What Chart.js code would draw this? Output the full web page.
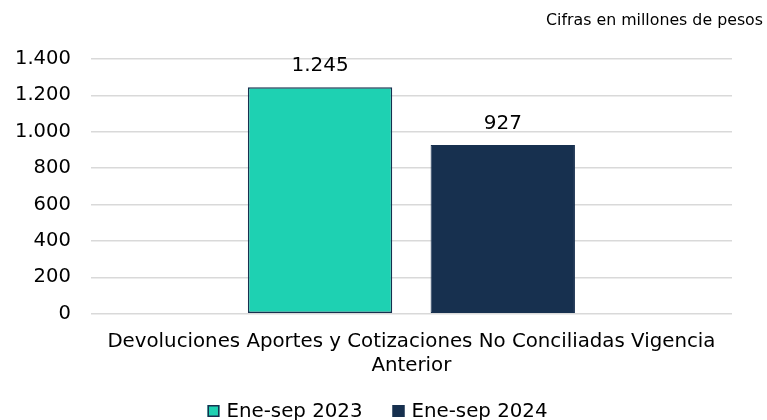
<!DOCTYPE html>
<html>
<head>
<meta charset="utf-8">
<script src="https://cdn.jsdelivr.net/npm/chart.js@4.4.1/dist/chart.umd.min.js"></script>
<style>
  html, body { margin: 0; padding: 0; background: #ffffff; }
  #wrap { width: 767px; height: 420px; position: relative; }
</style>
</head>
<body>
<div id="wrap"><canvas id="chart"></canvas></div>
<script>
// Data
const categories = [['Devoluciones Aportes y Cotizaciones No Conciliadas Vigencia', 'Anterior']];
const seriesNames = ['Ene-sep 2023', 'Ene-sep 2024'];
const values2023 = [1245];
const values2024 = [927];
const yTicks = [0, 200, 400, 600, 800, 1000, 1200, 1400];
const noteText = 'Cifras en millones de pesos';

const fontFamily = '"DejaVu Sans", Verdana, sans-serif';

// Thousands separator with a dot
function formatNum(v) {
    return String(Math.round(v)).replace(/\B(?=(\d{3})+(?!\d))/g, '.');
}

// Values above bars, note in the top right corner, legend at the bottom
const extras = {
    id: 'extras',
    afterDatasetsDraw(chart) {
        const ctx = chart.ctx;
        ctx.save();
        ctx.font = '20px ' + fontFamily;
        ctx.fillStyle = '#000000';
        ctx.textAlign = 'center';
        ctx.textBaseline = 'bottom';
        chart.data.datasets.forEach((ds, i) => {
            chart.getDatasetMeta(i).data.forEach((bar, j) => {
                ctx.fillText(formatNum(ds.data[j]), bar.x, bar.y - 11);
            });
        });

        // note
        ctx.font = '15.8px ' + fontFamily;
        ctx.textAlign = 'right';
        ctx.textBaseline = 'middle';
        ctx.fillText(noteText, chart.width - 4, 21);

        // legend
        ctx.font = '19.8px ' + fontFamily;
        const box = 12, gap = 7, itemGap = 30;
        const items = chart.data.datasets.map((ds) => ({
            ds,
            w: box + gap + ctx.measureText(ds.label).width,
        }));
        const total = items.reduce((s, it) => s + it.w, 0) + itemGap * (items.length - 1);
        let x = chart.width / 2 - 6 - total / 2;
        const y = 411;
        ctx.textAlign = 'left';
        items.forEach((it) => {
            ctx.fillStyle = it.ds.backgroundColor;
            ctx.fillRect(x, y - box / 2, box, box);
            ctx.strokeStyle = it.ds.borderColor;
            ctx.lineWidth = 1.5;
            ctx.strokeRect(x + 0.75, y - box / 2 + 0.75, box - 1.5, box - 1.5);
            ctx.fillStyle = '#000000';
            ctx.fillText(it.ds.label, x + box + gap, y + 1);
            x += it.w + itemGap;
        });
        ctx.restore();
    }
};

const ctx = document.getElementById('chart').getContext('2d');
new Chart(ctx, {
    type: 'bar',
    data: {
        labels: categories,
        datasets: [
            {
                label: seriesNames[0],
                data: values2023,
                backgroundColor: '#1ed1b2',
                borderColor: '#17304f',
                borderWidth: 1.5,
                borderSkipped: false,
            },
            {
                label: seriesNames[1],
                data: values2024,
                backgroundColor: '#17304f',
                borderColor: '#17304f',
                borderWidth: 1,
                borderSkipped: false,
            },
        ],
    },
    options: {
        responsive: true,
        maintainAspectRatio: false,
        animation: false,
        datasets: {
            bar: {
                categoryPercentage: 0.57,
                barPercentage: 0.79,
            },
        },
        layout: {
            autoPadding: false,
            padding: { left: 15, right: 35, top: 59, bottom: 34 },
        },
        scales: {
            x: {
                grid: { display: false },
                border: { display: false },
                afterFit: (scale) => {
                    scale.paddingLeft = 0;
                    scale.paddingRight = 0;
                },
                ticks: {
                    color: '#000000',
                    font: { family: fontFamily, size: 19.8, lineHeight: 1.22 },
                    padding: 8,
                },
            },
            y: {
                min: 0,
                max: 1400,
                afterBuildTicks: (axis) => {
                    axis.ticks = yTicks.map((v) => ({ value: v }));
                },
                afterFit: (scale) => {
                    // chart.js counts the tick padding twice, keep it once
                    scale.width -= scale.options.ticks.padding;
                },
                grid: { color: '#d9d9d9', lineWidth: 1.5, drawTicks: false },
                border: { display: false },
                ticks: {
                    color: '#000000',
                    font: { family: fontFamily, size: 19.5 },
                    padding: 20,
                    callback: (v) => formatNum(v),
                },
            },
        },
        plugins: {
            legend: { display: false },
            tooltip: { enabled: false },
        },
    },
    plugins: [extras],
});
</script>
</body>
</html>
